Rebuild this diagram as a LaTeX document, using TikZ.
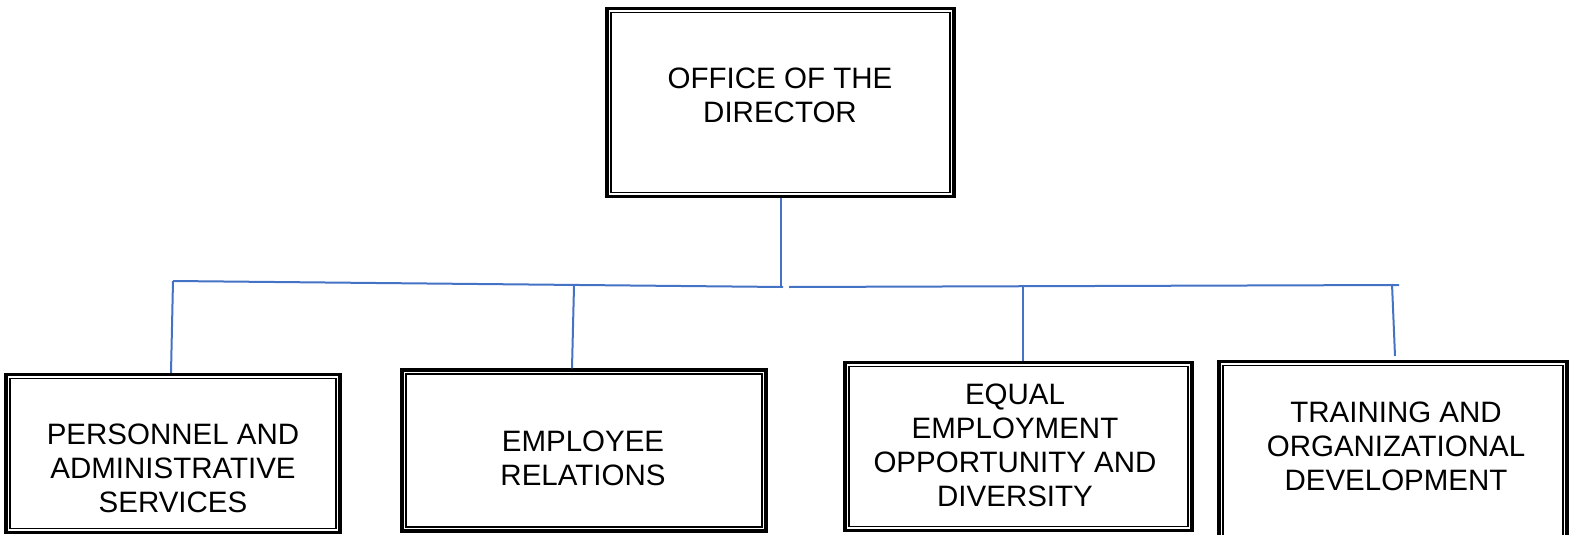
\documentclass[tikz,border=0pt]{standalone}
\usepackage{fontspec}
\setmainfont{Liberation Sans}
\definecolor{linkblue}{RGB}{68,114,196}
\begin{document}
\begin{tikzpicture}[x=1pt,y=-1pt,
  box/.style={draw=black, line width=3.4pt, inner sep=0pt, fill=white},
  innerbox/.style={draw=black, line width=1.5pt},
  label/.style={font=\fontsize{29.5}{34}\selectfont, align=center, inner sep=0pt},
  link/.style={draw=linkblue, line width=2pt}]
\useasboundingbox (0,0) rectangle (1574,535);
% boxes
\node[box, minimum width=347pt, minimum height=188pt] (top) at (780.5,102.5) {};
\node[box, minimum width=334pt, minimum height=158pt] (pas) at (173,453.5) {};
\node[box, minimum width=364pt, minimum height=161pt] (er) at (584,450.5) {};
\node[box, minimum width=347pt, minimum height=168pt] (eeo) at (1018.5,446.5) {};
\node[box, minimum width=348pt, minimum height=185pt] (tod) at (1393,454) {};
\foreach \n in {top,pas,er,eeo,tod}
  \draw[innerbox] ([xshift=5.5pt,yshift=-5.5pt]\n.north west) rectangle ([xshift=-5.5pt,yshift=5.5pt]\n.south east);
% texts
\node[label] (topt) at (780,95) {OFFICE OF THE\\DIRECTOR};
\node[label] (past) at (173,468.5) {PERSONNEL AND\\ADMINISTRATIVE\\SERVICES};
\node[label] (ert) at (583,458) {EMPLOYEE\\RELATIONS};
\node[label] (eeot) at (1015,445) {EQUAL\\EMPLOYMENT\\OPPORTUNITY AND\\DIVERSITY};
\node[label] (todt) at (1396,446.5) {TRAINING AND\\ORGANIZATIONAL\\DEVELOPMENT};
% connectors
\coordinate (hub) at (781,287);
\coordinate (lend) at (173,281);
\coordinate (lhub) at (783,287);
\coordinate (rhub) at (789,287);
\coordinate (rend) at (1399,285);
\coordinate (bj) at (574,286);
\coordinate (cj) at (1023,285);
\coordinate (dj) at (1392,284);
\coordinate (dend) at (1395,356);
\draw[link] (top.south -| hub) -- (hub);
\draw[link] (lend) -- (lhub);
\draw[link] (rhub) -- (rend);
\draw[link] (lend) -- (pas.north -| 171,0);
\draw[link] (bj) -- (er.north -| 572,0);
\draw[link] (cj) -- (eeo.north -| cj);
\draw[link] (dj) -- (dend);
\end{tikzpicture}
\end{document}
